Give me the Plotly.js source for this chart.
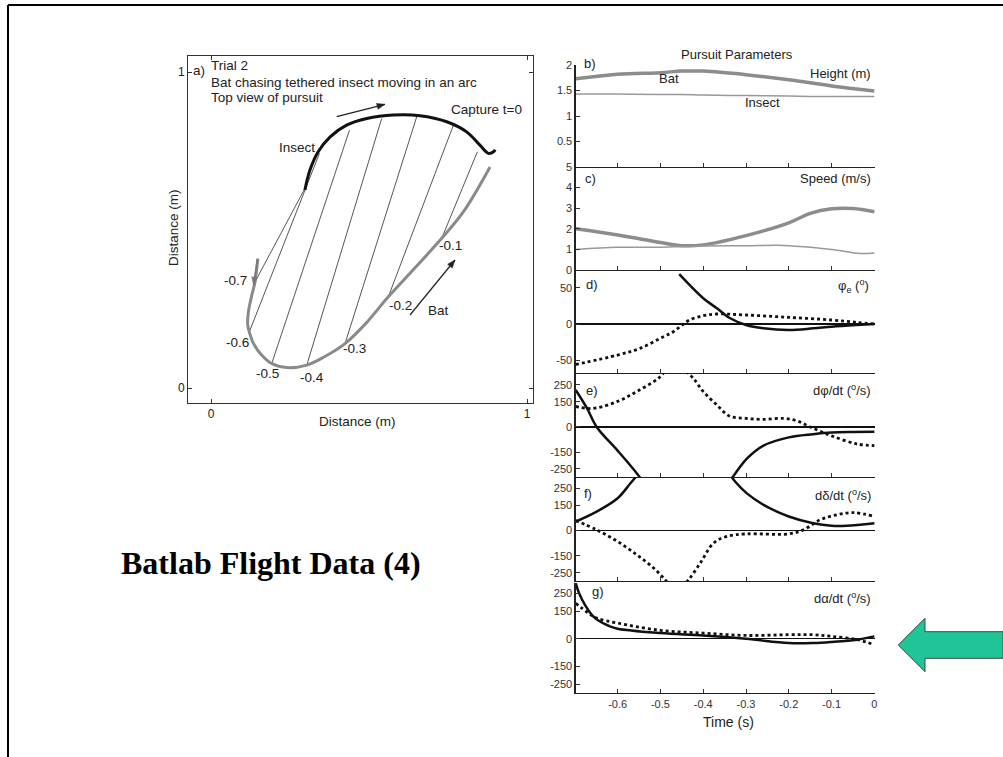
<!DOCTYPE html>
<html>
<head>
<meta charset="utf-8">
<script src="https://cdn.plot.ly/plotly-3.0.1.min.js"></script>
<style>html,body{margin:0;padding:0;background:#fff;}#chart{width:1003px;height:757px;}</style>
</head>
<body>
<div id="chart"></div>
<script>
// ---------- Panel a: top view of pursuit ----------
const insectX = [0.297,0.313,0.339,0.377,0.429,0.493,0.577,0.661,0.746,0.809,0.851,0.878,0.894,0.899];
const insectY = [0.627,0.690,0.748,0.795,0.832,0.853,0.864,0.862,0.843,0.811,0.769,0.743,0.748,0.755];
const batX = [0.148,0.139,0.128,0.118,0.116,0.121,0.135,0.160,0.192,0.240,0.303,0.360,0.424,0.490,0.561,0.645,0.730,0.800,0.883];
const batY = [0.410,0.336,0.290,0.240,0.200,0.178,0.140,0.105,0.078,0.065,0.073,0.100,0.141,0.205,0.289,0.380,0.474,0.560,0.700];
const sightTimes = ['-0.7','-0.6','-0.5','-0.4','-0.3','-0.2','-0.1'];
const sightBatX = [0.139,0.121,0.192,0.303,0.424,0.561,0.730];
const sightBatY = [0.336,0.178,0.078,0.073,0.141,0.289,0.474];
const sightInsX = [0.297,0.343,0.438,0.540,0.651,0.767,0.843];
const sightInsY = [0.632,0.743,0.816,0.853,0.859,0.832,0.748];

// ---------- b) Height (m) ----------
const tHeight = [-0.698,-0.6,-0.5,-0.45,-0.4,-0.3,-0.2,-0.1,0];
const heightBat = [1.73,1.82,1.85,1.88,1.88,1.81,1.71,1.59,1.49];
const heightInsect = [1.43,1.43,1.42,1.42,1.41,1.40,1.39,1.38,1.38];

// ---------- c) Speed (m/s) ----------
const tSpeedBat = [-0.698,-0.6,-0.5,-0.45,-0.4,-0.3,-0.2,-0.15,-0.1,-0.05,0];
const speedBat = [2.0,1.7,1.34,1.18,1.22,1.67,2.29,2.75,2.97,2.98,2.83];
const tSpeedIns = [-0.698,-0.6,-0.5,-0.4,-0.3,-0.228,-0.2,-0.1,-0.033,0];
const speedInsect = [1.0,1.1,1.11,1.17,1.18,1.2,1.18,1.0,0.8,0.82];

// ---------- d) phi_e (deg) ----------
const tPhiSolid = [-0.456,-0.4,-0.368,-0.337,-0.3,-0.259,-0.2,-0.143,-0.1,-0.042,0];
const phiSolid = [68.6,35.5,21.7,7.9,-1.4,-6,-8.3,-6,-3.7,-1.4,0];
const tPhiDot = [-0.698,-0.6,-0.548,-0.493,-0.47,-0.451,-0.432,-0.4,-0.368,-0.3,-0.2,-0.1,-0.042,0];
const phiDot = [-55.7,-42.8,-33.6,-17.5,-10.6,-2.3,5.5,11.5,13.8,12.4,9.2,5.5,2.3,0];

// ---------- e) dphi/dt (deg/s) ----------
const tE1Solid = [-0.698,-0.672,-0.649,-0.6,-0.555,-0.54];
const e1Solid = [220,113,0,-141,-277,-330];
const tE2Solid = [-0.34,-0.325,-0.298,-0.259,-0.2,-0.143,-0.1,-0.05,0];
const e2Solid = [-330,-277,-189,-111,-62,-43,-33,-30,-29];
const tE1Dot = [-0.698,-0.672,-0.649,-0.6,-0.555,-0.505,-0.49];
const e1Dot = [123,110,113,152,211,289,330];
const tE2Dot = [-0.44,-0.423,-0.4,-0.369,-0.338,-0.3,-0.259,-0.212,-0.18,-0.15,-0.1,-0.04,0];
const e2Dot = [330,289,211,133,64,51,45,51,35,0,-53,-102,-111];

// ---------- f) ddelta/dt (deg/s) ----------
const tF1Solid = [-0.698,-0.649,-0.6,-0.57,-0.55];
const f1Solid = [53,112,191,280,340];
const tF2Solid = [-0.34,-0.325,-0.298,-0.259,-0.2,-0.143,-0.1,-0.065,0];
const f2Solid = [340,289,220,152,83,43,28,28,43];
const tF1Dot = [-0.698,-0.649,-0.6,-0.555,-0.516,-0.489,-0.475];
const f1Dot = [59,4,-65,-144,-222,-291,-330];
const tF2Dot = [-0.45,-0.434,-0.407,-0.376,-0.345,-0.3,-0.2,-0.166,-0.127,-0.088,-0.049,0];
const f2Dot = [-330,-291,-193,-75,-35,-20,-20,4,63,93,106,83];

// ---------- g) dalpha/dt (deg/s) ----------
const tGSolid = [-0.698,-0.69,-0.675,-0.66,-0.645,-0.62,-0.6,-0.5,-0.4,-0.3,-0.2,-0.143,-0.1,-0.04,0];
const gSolid = [305,250,180,130,100,70,55,31,18,0,-24,-24,-18,-5,13];
const tGDot = [-0.698,-0.668,-0.649,-0.6,-0.5,-0.4,-0.3,-0.2,-0.143,-0.1,-0.04,0];
const gDot = [195,140,113,86,46,31,18,22,22,13,-5,-33];

const timeTicks = [-0.6,-0.5,-0.4,-0.3,-0.2,-0.1,0];
const timeTickText = ['-0.6','-0.5','-0.4','-0.3','-0.2','-0.1','0'];

// ---------- helpers ----------
const W = 1003, H = 757;
const fx = p => p / W;
const fy = p => 1 - p / H;
const FONT = 'Liberation Sans, Arial, sans-serif';

const traces = [];
for (let i = 0; i < sightTimes.length; i++) {
  traces.push({x:[sightBatX[i], sightInsX[i]], y:[sightBatY[i], sightInsY[i]], xaxis:'x', yaxis:'y',
    mode:'lines', line:{color:'#555', width:1}, hoverinfo:'skip'});
}
traces.push({x:batX, y:batY, xaxis:'x', yaxis:'y', mode:'lines', line:{color:'#8a8a8a', width:3, shape:'spline'}});
traces.push({x:insectX, y:insectY, xaxis:'x', yaxis:'y', mode:'lines', line:{color:'#111', width:3, shape:'spline'}});

const SOLID = {color:'#111', width:2.5, shape:'spline'};
const DOT = {color:'#111', width:2.8, dash:'dot', shape:'spline'};
function add(x, y, ax, line) { traces.push({x:x, y:y, xaxis:'x'+ax, yaxis:'y'+ax, mode:'lines', line:line}); }
add(tHeight, heightBat, 2, {color:'#8c8c8c', width:3.5, shape:'spline'});
add(tHeight, heightInsect, 2, {color:'#999', width:1.5, shape:'spline'});
add(tSpeedBat, speedBat, 3, {color:'#8c8c8c', width:3.5, shape:'spline'});
add(tSpeedIns, speedInsect, 3, {color:'#999', width:1.5, shape:'spline'});
add(tPhiSolid, phiSolid, 4, SOLID);
add(tPhiDot, phiDot, 4, DOT);
add(tE1Solid, e1Solid, 5, SOLID);
add(tE2Solid, e2Solid, 5, SOLID);
add(tE1Dot, e1Dot, 5, DOT);
add(tE2Dot, e2Dot, 5, DOT);
add(tF1Solid, f1Solid, 6, SOLID);
add(tF2Solid, f2Solid, 6, SOLID);
add(tF1Dot, f1Dot, 6, DOT);
add(tF2Dot, f2Dot, 6, DOT);
add(tGSolid, gSolid, 7, SOLID);
add(tGDot, gDot, 7, DOT);

const layout = {
  width: W, height: H, showlegend: false,
  margin: {l:0, r:0, t:0, b:0, autoexpand:false},
  paper_bgcolor: '#fff', plot_bgcolor: 'rgba(0,0,0,0)',
  font: {family: FONT, color: '#222', size: 11},
  xaxis: {domain:[fx(188), fx(533)], range:[-0.073, 1.019], anchor:'y', tickvals:[0,1], ticktext:['0','1'],
    ticks:'inside', ticklen:4, tickcolor:'#333', mirror:'ticks', showline:true, linecolor:'#333', linewidth:1,
    showgrid:false, zeroline:false, tickfont:{size:12, color:'#222'}},
  yaxis: {domain:[fy(403), fy(56)], range:[-0.047, 1.051], anchor:'x', tickvals:[0,1], ticktext:['0','1'],
    ticks:'inside', ticklen:4, tickcolor:'#333', mirror:'ticks', showline:true, linecolor:'#333', linewidth:1,
    showgrid:false, zeroline:false, tickfont:{size:12, color:'#222'}},
  annotations: [], shapes: []
};

const panelY = [[65,167],[167,270],[270,373],[373,477],[477,581],[583,693]];
const panelRange = [[0,2],[0,5],[-67.5,74.4],[-298,321],[-299,317],[-298,306]];
const panelTicks = [[0.5,1,1.5,2],[0,1,2,3,4,5],[-50,0,50],[-250,-150,0,150,250],[-250,-150,0,150,250],[-250,-150,0,150,250]];
const panelTickText = [['0.5','1','1.5','2'],['0','1','2','3','4','5'],['-50','0','50'],['-250','-150','0','150','250'],['-250','-150','0','150','250'],['-250','-150','0','150','250']];
for (let i = 0; i < 6; i++) {
  const n = i + 2;
  layout['xaxis' + n] = {domain:[fx(575.7), fx(875)], range:[-0.698, 0.0015], anchor:'y' + n,
    tickvals: timeTicks, ticktext: timeTickText, showticklabels: n === 7, ticks:'inside', ticklen:4, tickcolor:'#333',
    showline:true, linecolor:'#222', linewidth:1.3, showgrid:false, zeroline:false, tickfont:{size:11, color:'#333'}};
  layout['yaxis' + n] = {domain:[fy(panelY[i][1]), fy(panelY[i][0])], range:panelRange[i], anchor:'x' + n,
    tickvals: panelTicks[i], ticktext: panelTickText[i], ticks:'inside', ticklen:4, tickcolor:'#333',
    showline:true, linecolor:'#222', linewidth:1.3, showgrid:false,
    zeroline: i >= 2, zerolinecolor:'#111', zerolinewidth:1.2, tickfont:{size:11, color:'#333'}};
}

function txt(text, x, y, xa, size, extra) {
  const a = Object.assign({text:text, x:fx(x), y:fy(y), xref:'paper', yref:'paper', xanchor:xa||'left', yanchor:'middle',
    showarrow:false, font:{family:FONT, size:size||11, color:'#222'}}, extra||{});
  layout.annotations.push(a);
}
const AF = 13.5;
txt('a)', 191, 70, 'left', AF);
txt('Trial 2', 209, 66, 'left', AF);
txt('Bat chasing tethered insect moving in an arc', 209, 82, 'left', AF);
txt('Top view of pursuit', 209, 98, 'left', AF);
txt('Capture t=0', 449, 110, 'left', AF);
txt('Insect', 277, 148, 'left', AF);
txt('-0.7', 235, 280, 'center', AF);
txt('-0.6', 237, 342, 'center', AF);
txt('-0.5', 267, 373, 'center', AF);
txt('-0.4', 312, 377, 'center', AF);
txt('-0.3', 354, 348, 'center', AF);
txt('-0.2', 400, 305, 'center', AF);
txt('-0.1', 450, 245, 'center', AF);
txt('Bat', 438, 310, 'center', AF);
txt('Distance (m)', 357, 422, 'center', AF);
txt('Distance (m)', 173, 228, 'center', AF, {textangle:-90});

// direction arrows as shapes
function arrow(x0, y0, x1, y1, color, w) {
  layout.shapes.push({type:'line', xref:'paper', yref:'paper', x0:fx(x0), y0:fy(y0), x1:fx(x1), y1:fy(y1), line:{color:color, width:w}});
  const dx = x1 - x0, dy = y1 - y0, L = Math.hypot(dx, dy), ux = dx / L, uy = dy / L;
  const bx = x1 - 8 * ux, by = y1 - 8 * uy, nx = -uy, ny = ux;
  const pts = [[x1, y1], [bx + 3 * nx, by + 3 * ny], [bx - 3 * nx, by - 3 * ny]];
  layout.shapes.push({type:'path', xref:'paper', yref:'paper',
    path:'M ' + pts.map(p => fx(p[0]).toFixed(5) + ',' + fy(p[1]).toFixed(5)).join(' L ') + ' Z',
    fillcolor:color, line:{color:color, width:0.5}});
}
arrow(336.7, 116.7, 385, 104.3, '#222', 1.2);
arrow(410, 315, 455, 260, '#222', 1.2);
arrow(257.5, 259, 253.5, 285, '#777', 1.5);

const RF = 13;
txt('Pursuit Parameters', 737, 55, 'center', RF);
txt('b)', 582, 64, 'left', RF);
txt('Bat', 669, 79, 'center', RF);
txt('Height (m)', 873, 73, 'right', RF);
txt('Insect', 762, 103, 'center', RF);
txt('c)', 583, 178, 'left', RF);
txt('Speed (m/s)', 873, 178, 'right', RF);
txt('d)', 584, 285, 'left', RF);
txt('φ<sub>e</sub> (<sup>o</sup>)', 871, 286, 'right', RF);
txt('e)', 584, 390, 'left', RF);
txt('dφ/dt (<sup>o</sup>/s)', 873, 390, 'right', RF);
txt('f)', 582, 493, 'left', RF);
txt('dδ/dt (<sup>o</sup>/s)', 873, 495, 'right', RF);
txt('g)', 590, 591, 'left', RF);
txt('dα/dt (<sup>o</sup>/s)', 873, 598, 'right', RF);
txt('Time (s)', 728, 722, 'center', 14);

txt('<b>Batlab Flight Data (4)</b>', 119, 563, 'left', 32, {font:{family:'Liberation Serif, Times New Roman, serif', size:32, color:'#000'}});

// slide frame
layout.shapes.push({type:'line', xref:'paper', yref:'paper', x0:fx(8), x1:1, y0:fy(5), y1:fy(5), line:{color:'#000', width:2}});
layout.shapes.push({type:'line', xref:'paper', yref:'paper', x0:fx(8), x1:fx(8), y0:fy(5), y1:0, line:{color:'#000', width:2}});

// green arrow
const ap = [[1003,631.7],[925,631.7],[925,618.3],[898.3,645],[925,671.7],[925,658.3],[1003,658.3]];
const path = 'M ' + ap.map(p => fx(p[0]).toFixed(5) + ',' + fy(p[1]).toFixed(5)).join(' L ') + ' Z';
layout.shapes.push({type:'path', xref:'paper', yref:'paper', path:path, fillcolor:'#1fc597', line:{color:'#3b4a45', width:1}});

Plotly.newPlot('chart', traces, layout, {staticPlot:true, displayModeBar:false});
</script>
</body>
</html>
